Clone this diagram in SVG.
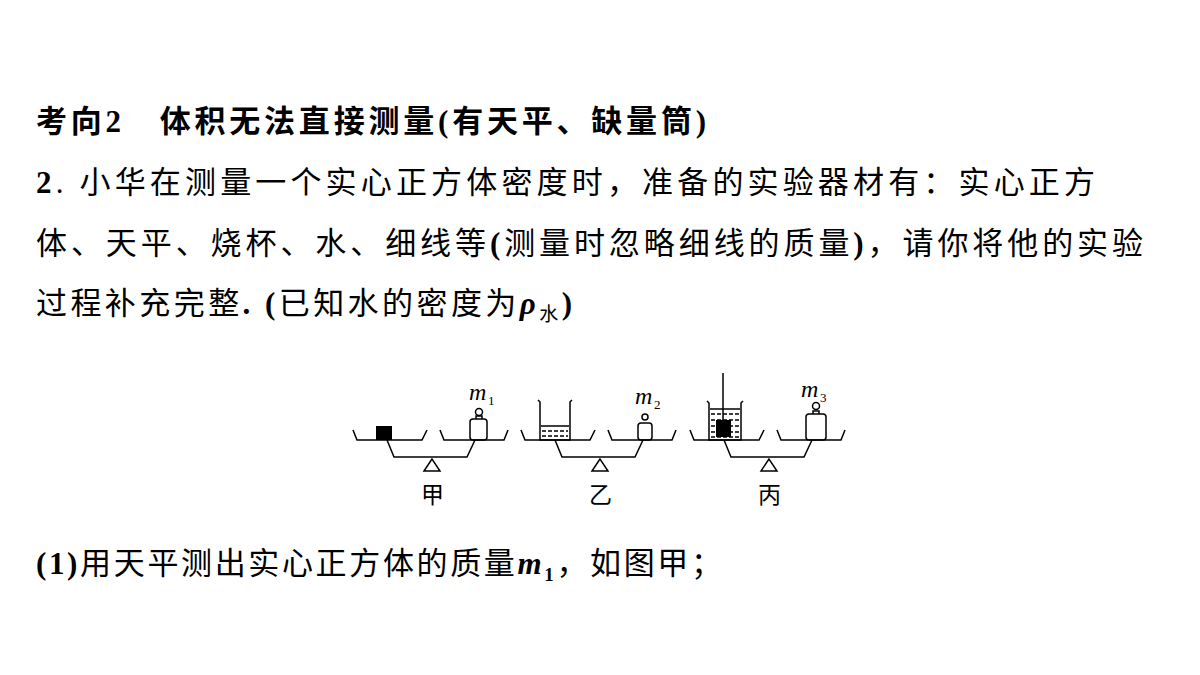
<svg xmlns="http://www.w3.org/2000/svg" width="1200" height="675" viewBox="0 0 1200 675">
<style>
.t{font-family:"Liberation Serif","Noto Sans CJK SC",serif;font-size:31px;fill:#000}
.b{font-weight:bold}
.ln{fill:none;stroke:#000;stroke-width:1.5}
.lab{font-family:"Liberation Serif","Noto Sans CJK SC",serif;font-size:23px}
.m{font-family:"Liberation Serif",serif;font-style:italic;font-size:24px}
.s{font-family:"Liberation Serif",serif;font-size:13px}
</style>
<defs>
<g id="bal">
<path class="ln" d="M353,430 L357,440 L422,440 L427,430 M440,430 L444,440 L504,440 L508,430 M387,440 L394,457 L467,457 L475,440"/>
<path class="ln" d="M432,459 L424,471 L440,471 Z" fill="#fff"/>
</g>
</defs>
<text class="t b" x="36" y="132" textLength="670" lengthAdjust="spacing">考向2　体积无法直接测量(有天平、缺量筒)</text>
<text class="t" x="36" y="193" textLength="1059" lengthAdjust="spacing"><tspan class="b">2</tspan>. 小华在测量一个实心正方体密度时，准备的实验器材有：实心正方</text>
<text class="t" x="36" y="254" textLength="1107" lengthAdjust="spacing">体、天平、烧杯、水、细线等<tspan class="b">(</tspan>测量时忽略细线的质量<tspan class="b">)</tspan>，请你将他的实验</text>
<text class="t" x="36" y="314" textLength="536" lengthAdjust="spacing">过程补充完整<tspan class="b">.</tspan> <tspan class="b">(</tspan>已知水的密度为<tspan class="b" font-style="italic">ρ</tspan><tspan font-size="19" dy="7">水</tspan><tspan class="b" dy="-7">)</tspan></text>
<text class="t" x="36" y="574" textLength="686" lengthAdjust="spacing"><tspan class="b">(1)</tspan>用天平测出实心正方体的质量<tspan class="b" font-style="italic">m</tspan><tspan class="b" font-size="19" dy="7">1</tspan><tspan dy="-7">，如图甲；</tspan></text>
<g id="jia">
<use href="#bal"/>
<rect x="376" y="426" width="16" height="14" fill="#000"/>
<rect class="ln" x="470" y="419" width="17" height="21" rx="3" fill="#fff"/>
<path class="ln" d="M476,419 L476,416 L482,416 L482,419"/>
<circle class="ln" cx="479" cy="412" r="3.5" fill="#fff"/>
<text class="m" x="469" y="400">m</text><text class="s" x="488" y="405">1</text>
<text class="lab" x="421" y="503">甲</text>
</g>
<g id="yi">
<use href="#bal" transform="translate(168,0)"/>
<path class="ln" d="M538,400 L540,402 L540,440 L570,440 L570,402 L572,400"/>
<path class="ln" d="M541,426 L569,426" stroke-width="1"/>
<path class="ln" stroke-width="1" stroke-dasharray="4,2" d="M542,431 L568,431 M542,436 L568,436"/>
<rect class="ln" x="638" y="423" width="14" height="17" rx="3" fill="#fff"/>
<circle class="ln" cx="645" cy="417" r="3" fill="#fff"/>
<text class="m" x="635" y="404">m</text><text class="s" x="654" y="409">2</text>
<text class="lab" x="589" y="503">乙</text>
</g>
<g id="bing">
<use href="#bal" transform="translate(337,0)"/>
<path class="ln" d="M707,401 L709,403 L709,440 L741,440 L741,403 L743,401"/>
<path class="ln" stroke-width="1" d="M710,409 L740,409"/>
<path class="ln" stroke-width="1" stroke-dasharray="4,2" d="M711,414 L739,414 M711,420 L739,420 M711,426 L739,426 M711,432 L739,432 M711,437 L739,437"/>
<line class="ln" x1="723" y1="373" x2="723" y2="421"/>
<rect x="716" y="420" width="15" height="17" fill="#000"/>
<rect class="ln" x="806" y="414" width="20" height="26" rx="3" fill="#fff"/>
<path class="ln" d="M813,414 L813,411 L819,411 L819,414"/>
<circle class="ln" cx="816" cy="406" r="3.5" fill="#fff"/>
<text class="m" x="801" y="397">m</text><text class="s" x="820" y="402">3</text>
<text class="lab" x="758" y="503">丙</text>
</g>
</svg>
